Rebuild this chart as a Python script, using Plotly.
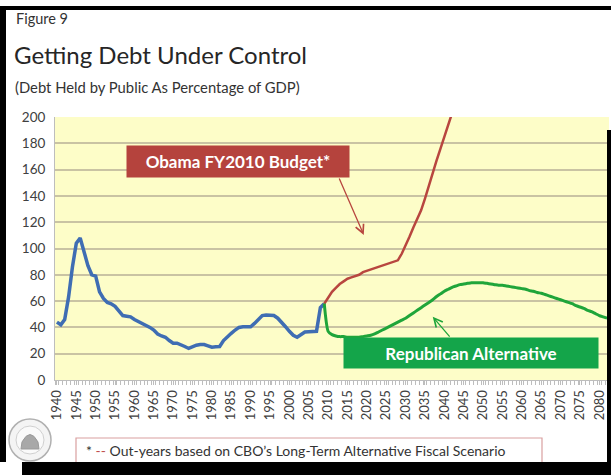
import plotly.graph_objects as go

# ---------------- data ----------------
hist_years = list(range(1940, 2010))
hist_debt = [44, 42, 46, 63, 86, 104, 108, 97, 87, 80,
             79, 67, 62, 59, 58, 56, 52, 49, 48.5, 48,
             46, 44.5, 43, 42, 40, 38, 35, 33.5, 32.5, 30,
             28, 28, 27, 25.5, 24, 25.5, 26.5, 27, 27, 26,
             25, 25.3, 25.5, 30, 33, 35.5, 38, 40, 40.5, 40.5,
             40.5, 43, 46, 49, 49.4, 49.4, 49, 47, 44, 40.5,
             37, 34, 32.5, 34.5, 36.5, 36.7, 36.7, 37, 55, 58]

obama_years = list(range(2009, 2043))
obama_debt = [58, 63, 67, 70, 73, 75, 77, 78, 79, 80,
              82, 83, 84.5, 85.5, 86, 87, 88, 89, 90, 91,
              96, 102, 109, 116, 122, 129, 138, 148, 158, 167,
              176, 185, 194, 203]

gop_years = list(range(2009, 2083))
gop_debt = [58, 37, 34.5, 33.5, 33, 33, 32.5, 32.5, 32.5, 32.5,
            33, 33.5, 34, 35, 36.5, 38, 39.5, 41, 42.5, 44,
            45.5, 47, 49, 51, 53, 55, 57, 59, 61, 63.5,
            65.5, 67.5, 69, 70.5, 71.5, 72.5, 73, 73.5, 74, 74,
            74, 74, 73.5, 73, 72.5, 72, 72, 71.5, 71, 70.5,
            70, 69.5, 69, 68, 67.5, 66.5, 66, 65, 64, 63,
            62, 61, 60, 59, 58, 56.5, 55.5, 54.5, 53, 52,
            50.5, 49, 48, 47]

tick_years = list(range(1940, 2081, 5))
tick_labels = [str(y) for y in tick_years]
y_ticks = list(range(0, 201, 20))

title_small = "Figure 9"
title_main = "Getting Debt Under Control"
subtitle = "(Debt Held by Public As Percentage of GDP)"
obama_label = "Obama FY2010 Budget*"
gop_label = "Republican Alternative"
footnote = "* <span style='color:#C0504D'>--</span> Out-years based on CBO\u2019s Long-Term Alternative Fiscal Scenario"

# ---------------- layout geometry ----------------
W, H = 611, 475
L, R, T, B = 55, 2, 117, 95
PW, PH = W - L - R, H - T - B


def px(x):
    return (x - L) / PW


def py(y):
    return (H - B - y) / PH


FONT = "Lato"
BLUE = "#3F6DB3"
RED = "#B8463F"
GREEN = "#1FA53A"

fig = go.Figure()
fig.add_trace(go.Scatter(x=hist_years, y=hist_debt, mode="lines",
                         line=dict(color=BLUE, width=3.5), hoverinfo="skip"))
fig.add_trace(go.Scatter(x=obama_years, y=obama_debt, mode="lines",
                         line=dict(color=RED, width=2.5), hoverinfo="skip"))
fig.add_trace(go.Scatter(x=gop_years, y=gop_debt, mode="lines",
                         line=dict(color=GREEN, width=3, shape="spline", smoothing=0.6),
                         hoverinfo="skip"))

annotations = [
    dict(x=px(14), y=py(18), xref="paper", yref="paper", xanchor="left", yanchor="middle",
         text=title_small, showarrow=False, font=dict(family=FONT, size=14.5, color="#333333")),
    dict(x=px(12), y=py(55), xref="paper", yref="paper", xanchor="left", yanchor="middle",
         text=title_main, showarrow=False, font=dict(family=FONT, size=24, color="#262626")),
    dict(x=px(13), y=py(87), xref="paper", yref="paper", xanchor="left", yanchor="middle",
         text=subtitle, showarrow=False, font=dict(family=FONT, size=14.8, color="#333333")),
    # label boxes
    dict(x=1986.7, y=166, xref="x", yref="y", text="<b>%s</b>" % obama_label, showarrow=False,
         bgcolor="#B5433D", font=dict(family=FONT, size=17, color="white"),
         width=222, height=31, borderpad=0, align="center", valign="middle"),
    dict(x=2046.9, y=20.5, xref="x", yref="y", text="<b>%s</b>" % gop_label, showarrow=False,
         bgcolor="#14A54A", font=dict(family=FONT, size=17, color="white"),
         width=254, height=30, borderpad=0, align="center", valign="middle"),
    # arrows
    dict(x=2019.2, y=110.3, ax=2012.7, ay=154.4, xref="x", yref="y", axref="x", ayref="y",
         text="", showarrow=True, arrowhead=5, arrowsize=1.3, arrowwidth=1.3, arrowcolor=RED),
    dict(x=2037.0, y=48.1, ax=2041.7, ay=31.9, xref="x", yref="y", axref="x", ayref="y",
         text="", showarrow=True, arrowhead=5, arrowsize=1.3, arrowwidth=1.3, arrowcolor=GREEN),
    # footnote
    dict(x=px(84), y=py(450), xref="paper", yref="paper", xanchor="left", yanchor="middle",
         text=footnote, showarrow=False, font=dict(family=FONT, size=14, color="#333333")),
]

shapes = [
    # footnote box
    dict(type="rect", xref="paper", yref="paper", x0=px(76), x1=px(542), y0=py(438), y1=py(470),
         line=dict(color="#D9A0A0", width=1.2), fillcolor="rgba(0,0,0,0)", layer="above"),
    # logo
    dict(type="circle", xref="paper", yref="paper", x0=px(9), x1=px(51), y0=py(419), y1=py(461),
         line=dict(color="#B0B0B0", width=1.5), fillcolor="#F4F4F4"),
    dict(type="circle", xref="paper", yref="paper", x0=px(16), x1=px(44), y0=py(426), y1=py(454),
         line=dict(color="#D0D0D0", width=1), fillcolor="#FAFAFA"),
    dict(type="path", xref="paper", yref="paper",
         path="M %f,%f L %f,%f Q %f,%f %f,%f L %f,%f Z" % (
             px(21), py(449), px(22), py(442), px(30), py(427), px(38), py(442), px(39), py(449)),
         line=dict(color="#9A9A9A", width=1), fillcolor="#A8A8A8"),
    # black borders
    dict(type="line", xref="paper", yref="paper", x0=px(0), x1=px(611), y0=py(8), y1=py(8),
         line=dict(color="black", width=4), layer="above"),
    dict(type="line", xref="paper", yref="paper", x0=px(3), x1=px(3), y0=py(6), y1=py(462),
         line=dict(color="black", width=6), layer="above"),
    dict(type="rect", xref="paper", yref="paper", x0=px(22), x1=px(611), y0=py(462), y1=py(475),
         line=dict(width=0), fillcolor="black", layer="above"),
    dict(type="line", xref="paper", yref="paper", x0=px(609), x1=px(609), y0=py(130), y1=py(475),
         line=dict(color="black", width=4), layer="above"),
]

fig.update_layout(
    width=W, height=H,
    margin=dict(l=L, r=R, t=T, b=B, pad=0),
    paper_bgcolor="white",
    plot_bgcolor="#FDFDC8",
    showlegend=False,
    annotations=annotations,
    shapes=shapes,
    font=dict(family=FONT),
)
fig.update_xaxes(range=[1939.5, 2082.5], tickmode="array", tickvals=tick_years, ticktext=tick_labels,
                 tickangle=-90, tickfont=dict(family=FONT, size=13, color="#404040"),
                 showgrid=False, zeroline=False, showline=True, linecolor="#BDBDBD", linewidth=1,
                 ticks="outside", ticklen=4, tickcolor="#BDBDBD",
                 minor=dict(dtick=1, tick0=1939.5, ticks="outside", ticklen=4, tickcolor="#BDBDBD"))
fig.update_yaxes(range=[0, 200], tickmode="array", tickvals=y_ticks,
                 tickfont=dict(family=FONT, size=13.5, color="#404040"),
                 showgrid=True, gridcolor="#C9C3A3", gridwidth=1.5, zeroline=False,
                 showline=True, linecolor="#BDBDBD", linewidth=1, ticks="", ticklabelstandoff=6)

fig.write_html("out.html", config={"displayModeBar": False},
               post_script="document.body.style.margin='0';document.body.style.overflow='hidden';")
